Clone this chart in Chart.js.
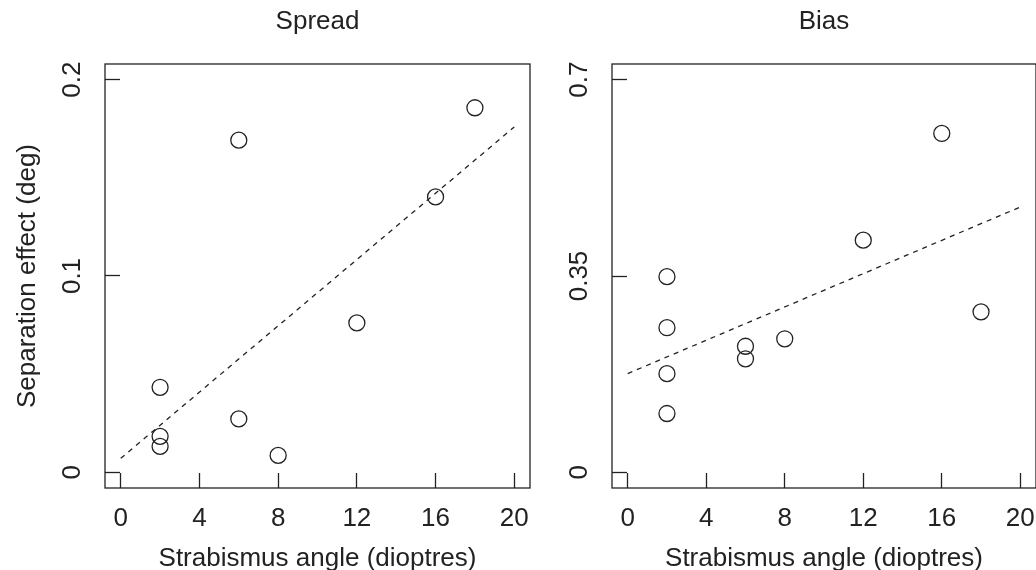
<!DOCTYPE html>
<html>
<head>
<meta charset="utf-8">
<script src="https://cdn.jsdelivr.net/npm/chart.js@4/dist/chart.umd.min.js"></script>
<style>
  html, body { margin: 0; padding: 0; background: #fff; }
  body { width: 1036px; height: 570px; overflow: hidden; position: relative; }
  canvas { position: absolute; top: 0; }
  #spread { left: 0; }
  #bias { left: 548px; }
</style>
</head>
<body>
<canvas id="spread" width="548" height="570"></canvas>
<canvas id="bias" width="488" height="570"></canvas>
<script>
// strabismus angle (dioptres) per observer
const spreadAngle = [2, 2, 2, 6, 6, 8, 12, 16, 18];
const spreadEffect = [0.0433, 0.0183, 0.0132, 0.1692, 0.0272, 0.0086, 0.0761, 0.1403, 0.1857];
const biasAngle = [2, 2, 2, 2, 6, 6, 8, 12, 16, 18];
const biasEffect = [0.3488, 0.2578, 0.1759, 0.1048, 0.2247, 0.2024, 0.2380, 0.4139, 0.6042, 0.2861];

// dashed fit lines, end points
const fitAngle = [0, 20];
const spreadFit = [0.0071, 0.1759];
const biasFit = [0.176, 0.473];

const xTicks = [0, 4, 8, 12, 16, 20];
const xTickLabels = ["0", "4", "8", "12", "16", "20"];
const spreadTicks = [0, 0.1, 0.2];
const spreadTickLabels = ["0", "0.1", "0.2"];
const biasTicks = [0, 0.35, 0.7];
const biasTickLabels = ["0", "0.35", "0.7"];

const xRange = [-0.8, 20.8];
const spreadRange = [-0.008, 0.208];
const biasRange = [-0.028, 0.728];

const FONT = "'Liberation Sans', Arial, Helvetica, sans-serif";
const INK = "#222";

// the closed box around the plot region
const framePlugin = {
  id: "frame",
  afterDatasetsDraw(chart) {
    const { ctx, chartArea: a } = chart;
    ctx.save();
    ctx.strokeStyle = INK;
    ctx.lineWidth = 1.3;
    ctx.strokeRect(a.left, a.top, a.right - a.left, a.bottom - a.top);
    ctx.restore();
  },
};

function drawPanel(id, p) {
  const ctx = document.getElementById(id).getContext("2d");
  return new Chart(ctx, {
    type: "scatter",
    data: {
      datasets: [
        {
          type: "line",
          data: fitAngle.map((x, i) => ({ x: x, y: p.fit[i] })),
          borderColor: INK,
          borderWidth: 1.3,
          borderDash: [5, 5],
          pointRadius: 0,
          fill: false,
          tension: 0,
        },
        {
          data: p.x.map((x, i) => ({ x: x, y: p.y[i] })),
          pointRadius: 8,
          pointHoverRadius: 8,
          pointBorderWidth: 1.3,
          pointBorderColor: INK,
          pointBackgroundColor: "rgba(0,0,0,0)",
        },
      ],
    },
    options: {
      responsive: false,
      animation: false,
      events: [],
      layout: { autoPadding: false, padding: { left: 0, right: p.padRight, top: 0, bottom: 0 } },
      plugins: {
        legend: { display: false },
        tooltip: { enabled: false },
        title: {
          display: true,
          text: p.title,
          fullSize: false,
          color: INK,
          font: { family: FONT, size: 26, weight: "normal", lineHeight: 1.2 },
          padding: { top: 6.4, bottom: 26.4 },
        },
      },
      scales: {
        x: {
          type: "linear",
          position: "bottom",
          min: xRange[0],
          max: xRange[1],
          afterBuildTicks: (s) => {
            s.ticks = xTicks.map((v) => ({ value: v }));
          },
          afterFit: (s) => {
            s.height = 82;
            s.paddingLeft = s.paddingRight = s.paddingTop = s.paddingBottom = 0;
          },
          grid: { display: true, drawOnChartArea: false, drawTicks: true, tickLength: -15, tickWidth: 1.3, tickColor: INK },
          border: { display: false },
          ticks: {
            autoSkip: false,
            maxRotation: 0,
            padding: 30.4,
            color: INK,
            font: { family: FONT, size: 26, lineHeight: 1.2 },
            callback: (v, i) => xTickLabels[i],
          },
          title: {
            display: true,
            text: "Strabismus angle (dioptres)",
            color: INK,
            font: { family: FONT, size: 26, lineHeight: 0.846 },
            padding: { top: 0, bottom: 0 },
          },
        },
        y: {
          type: "linear",
          position: "left",
          min: p.range[0],
          max: p.range[1],
          afterBuildTicks: (s) => {
            s.ticks = p.ticks.map((v) => ({ value: v }));
          },
          afterFit: (s) => {
            s.width = p.axisWidth;
            s.paddingLeft = s.paddingRight = s.paddingTop = s.paddingBottom = 0;
          },
          grid: { display: true, drawOnChartArea: false, drawTicks: true, tickLength: -15, tickWidth: 1.3, tickColor: INK },
          border: { display: false },
          ticks: {
            autoSkip: false,
            minRotation: 90,
            maxRotation: 90,
            crossAlign: "center",
            padding: p.tickPad,
            color: INK,
            font: { family: FONT, size: 26, lineHeight: 1.2 },
            callback: (v, i) => p.tickLabels[i],
          },
          title: {
            display: !!p.yTitle,
            text: p.yTitle || "",
            color: INK,
            font: { family: FONT, size: 26, lineHeight: 1.2 },
            padding: { top: 12.7, bottom: 0 },
          },
        },
      },
    },
    plugins: [framePlugin],
  });
}

drawPanel("spread", {
  title: "Spread",
  x: spreadAngle,
  y: spreadEffect,
  fit: spreadFit,
  range: spreadRange,
  ticks: spreadTicks,
  tickLabels: spreadTickLabels,
  yTitle: "Separation effect (deg)",
  axisWidth: 105,
  padRight: 18,
  tickPad: 28.9,
});

drawPanel("bias", {
  title: "Bias",
  x: biasAngle,
  y: biasEffect,
  fit: biasFit,
  range: biasRange,
  ticks: biasTicks,
  tickLabels: biasTickLabels,
  yTitle: null,
  axisWidth: 64,
  padRight: 0,
  tickPad: 21.7,
});
</script>
</body>
</html>
